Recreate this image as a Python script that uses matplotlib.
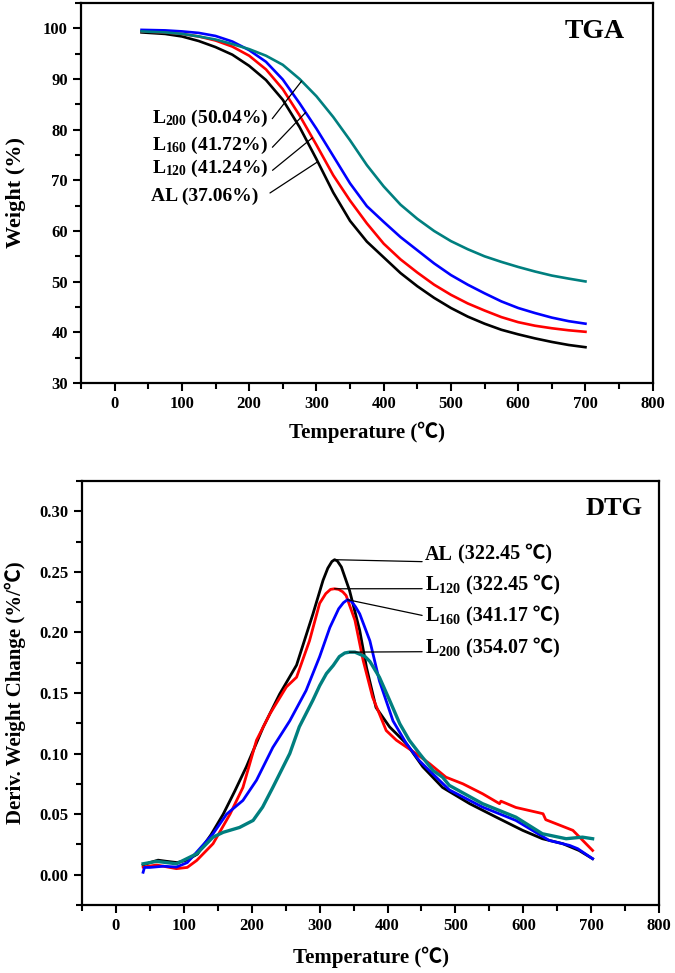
import numpy as np
import matplotlib
matplotlib.use('Agg')
import matplotlib.pyplot as plt
from matplotlib.ticker import MultipleLocator, FormatStrFormatter

plt.rcParams['font.family'] = ['Liberation Serif', 'Noto Sans CJK SC', 'DejaVu Sans']
plt.rcParams['font.weight'] = 'bold'
plt.rcParams['mathtext.fontset'] = 'custom'
plt.rcParams['mathtext.rm'] = 'Liberation Serif:bold'
plt.rcParams['mathtext.default'] = 'rm'

# ---- TGA data (weight %) ----
tga_T = [40, 75, 100, 125, 150, 175, 200, 225, 250, 275, 300, 325, 350, 375,
         400, 425, 450, 475, 500, 525, 550, 575, 600, 625, 650, 675, 700]
tga_AL = [99.2, 98.9, 98.4, 97.5, 96.3, 94.8, 92.6, 89.8, 85.9, 80.5, 74.2, 67.6, 62.0, 57.9,
          54.8, 51.7, 49.1, 46.8, 44.8, 43.1, 41.7, 40.5, 39.6, 38.8, 38.1, 37.5, 37.06]
tga_L120 = [99.4, 99.2, 98.9, 98.4, 97.6, 96.4, 94.6, 91.9, 88.0, 82.8, 77.0, 71.0, 66.0, 61.5,
            57.5, 54.4, 51.8, 49.4, 47.4, 45.7, 44.3, 43.0, 42.0, 41.3, 40.8, 40.4, 40.1]
tga_L160 = [99.7, 99.6, 99.4, 99.1, 98.5, 97.4, 95.7, 93.4, 89.9, 85.2, 80.2, 74.8, 69.4, 64.9,
            61.8, 58.8, 56.2, 53.6, 51.3, 49.4, 47.7, 46.1, 44.8, 43.8, 42.9, 42.2, 41.7]
tga_L200 = [99.4, 99.2, 98.9, 98.4, 97.8, 96.9, 95.9, 94.6, 92.8, 90.0, 86.6, 82.5, 77.9, 73.0,
            68.8, 65.2, 62.4, 60.0, 58.0, 56.4, 55.0, 53.9, 52.9, 52.0, 51.2, 50.6, 50.04]

# ---- DTG data (%/C) ----
dtg_T_AL = [40, 50, 62, 75, 90, 104, 120, 140, 158, 175, 192, 217, 241, 266, 290, 305, 312,
            318, 322, 326, 332, 344, 359, 369, 383, 403, 428, 452, 481, 521, 560, 599, 628,
            658, 682, 702]
dtg_AL = [0.008, 0.010, 0.012, 0.011, 0.010, 0.012, 0.017, 0.033, 0.050, 0.069, 0.089, 0.122,
          0.149, 0.173, 0.215, 0.243, 0.253, 0.2585, 0.260, 0.259, 0.254, 0.2346, 0.2016, 0.171,
          0.138, 0.122, 0.108, 0.089, 0.072, 0.0586, 0.0475, 0.0366, 0.0297, 0.0256, 0.020,
          0.0132]
dtg_T_L120 = [40, 60, 89, 105, 119, 143, 168, 187, 207, 227, 251, 266, 285, 300, 309, 316, 322,
              328, 334, 339, 352, 364, 378, 398, 413, 442, 462, 486, 511, 540, 565, 567, 589,
              624, 629, 633, 673, 702]
dtg_L120 = [0.0063, 0.008, 0.005, 0.006, 0.0118, 0.0256, 0.050, 0.072, 0.111, 0.133, 0.155,
            0.163, 0.193, 0.224, 0.232, 0.2355, 0.236, 0.2355, 0.2335, 0.2304, 0.210, 0.177,
            0.1465, 0.119, 0.111, 0.100, 0.0916, 0.0805, 0.075, 0.0668, 0.0586, 0.0607, 0.0555,
            0.0510, 0.0503, 0.0454, 0.0366, 0.020]
dtg_T_L160 = [40, 42, 50, 70, 89, 105, 119, 143, 163, 187, 207, 231, 256, 280, 300, 315, 328,
              335, 341, 347, 353, 359, 374, 388, 408, 428, 447, 467, 491, 540, 589, 638, 668,
              680, 702]
dtg_L160 = [0.002, 0.006, 0.006, 0.007, 0.0063, 0.010, 0.0187, 0.0338, 0.050, 0.0613, 0.078,
            0.105, 0.127, 0.152, 0.180, 0.204, 0.2195, 0.2245, 0.227, 0.2255, 0.221, 0.2153,
            0.193, 0.160, 0.127, 0.108, 0.094, 0.083, 0.070, 0.0558, 0.0448, 0.0283, 0.0242,
            0.0215, 0.0132]
dtg_T_L200 = [40, 60, 89, 119, 143, 158, 182, 202, 216, 231, 256, 270, 290, 300, 310, 320, 329,
              337, 344, 352, 359, 367, 374, 388, 403, 418, 432, 447, 467, 481, 491, 540, 589,
              628, 663, 687, 702]
dtg_L200 = [0.009, 0.011, 0.009, 0.0173, 0.031, 0.035, 0.039, 0.0448, 0.0558, 0.072, 0.100,
            0.122, 0.144, 0.156, 0.166, 0.1727, 0.180, 0.1830, 0.1837, 0.1837, 0.182, 0.180,
            0.176, 0.163, 0.144, 0.1246, 0.111, 0.100, 0.086, 0.0805, 0.0737, 0.0586, 0.0475,
            0.0338, 0.0297, 0.031, 0.0297]

colors = ['black', '#ff0000', '#0000ff', '#007f7f']

fig = plt.figure(figsize=(6.75, 9.73), dpi=100)
ax1 = fig.add_axes([0.120, 0.6064, 0.847, 0.3905])
ax2 = fig.add_axes([0.1215, 0.0699, 0.855, 0.4358])


def style(ax):
    for s in ax.spines.values():
        s.set_linewidth(1.6)
    ax.xaxis.set_major_locator(MultipleLocator(100))
    ax.xaxis.set_minor_locator(MultipleLocator(50))
    ax.tick_params(which='major', length=6, width=1.5, labelsize=12, direction='out')
    ax.tick_params(which='minor', length=4, width=1.5, direction='out')
    ax.tick_params(top=False, right=False)
    ax.set_xlim(-50, 800)


# TGA
for y, c in zip([tga_AL, tga_L120, tga_L160, tga_L200], colors):
    ax1.plot(tga_T, y, color=c, lw=1.9)
style(ax1)
ax1.set_ylim(30, 105)
ax1.yaxis.set_major_locator(MultipleLocator(10))
ax1.yaxis.set_minor_locator(MultipleLocator(5))
ax1.set_xlabel('Temperature (℃)', fontsize=15, fontweight='bold', labelpad=7)
ax1.set_ylabel('Weight (%)', fontsize=16, fontweight='bold', labelpad=12)
ax1.text(669, 99.4, 'TGA', fontsize=20, fontweight='bold', va='center')

tga_labels = [('L$_{200}$ (50.04%)', tga_L200, 278, 229, 82.3),
              ('L$_{160}$ (41.72%)', tga_L160, 284, 229, 76.8),
              ('L$_{120}$ (41.24%)', tga_L120, 294, 229, 72.4),
              ('AL (37.06%)', tga_AL, 302, 213, 66.8)]
for txt, ser, tx, lx, ly in tga_labels:
    shr = 8 if txt.startswith('AL') else 1
    ax1.annotate(txt, xy=(tx, np.interp(tx, tga_T, ser)), xytext=(lx, ly),
                 ha='right', va='center', fontsize=14, fontweight='bold',
                 arrowprops=dict(arrowstyle='-', lw=0.9, color='black',
                                 relpos=(1, 0.25), shrinkA=shr, shrinkB=0))

# DTG
dtg = [(dtg_T_AL, dtg_AL), (dtg_T_L120, dtg_L120), (dtg_T_L160, dtg_L160), (dtg_T_L200, dtg_L200)]
for (t, y), c in zip(dtg, colors):
    ax2.plot(t, y, color=c, lw=2.0 if c != '#007f7f' else 2.4)
style(ax2)
ax2.set_ylim(-0.025, 0.325)
ax2.yaxis.set_major_locator(MultipleLocator(0.05))
ax2.yaxis.set_minor_locator(MultipleLocator(0.025))
ax2.yaxis.set_major_formatter(FormatStrFormatter('%.2f'))
ax2.set_xlabel('Temperature (℃)', fontsize=15, fontweight='bold', labelpad=9)
ax2.set_ylabel('Deriv. Weight Change (%/℃)', fontsize=15, fontweight='bold', labelpad=10)
ax2.text(692, 0.302, 'DTG', fontsize=19, fontweight='bold', va='center')

# name part carries the leader line, the value part follows on the same baseline
dtg_labels = [('AL', ' (322.45 ℃)', 0, 0.260, 0.15),
              ('L$_{120}$', ' (322.45 ℃)', 1, 0.235, 0.3),
              ('L$_{160}$', ' (341.17 ℃)', 2, 0.209, 0.5),
              ('L$_{200}$', ' (354.07 ℃)', 3, 0.183, 0.3)]
for name, val, i, ly, rp in dtg_labels:
    t, y = dtg[i]
    k = int(np.argmax(y))
    lab = ax2.annotate(name, xy=(t[k], y[k]), xytext=(455, ly), ha='left', va='baseline',
                       fontsize=14.5, fontweight='bold',
                       arrowprops=dict(arrowstyle='-', lw=0.9, color='black',
                                       relpos=(0, rp), shrinkA=0, shrinkB=0))
    ax2.annotate(val, xy=(1, ly), xycoords=(lab, 'data'), ha='left', va='baseline',
                 fontsize=14.5, fontweight='bold')

fig.savefig('out.png', dpi=100)
